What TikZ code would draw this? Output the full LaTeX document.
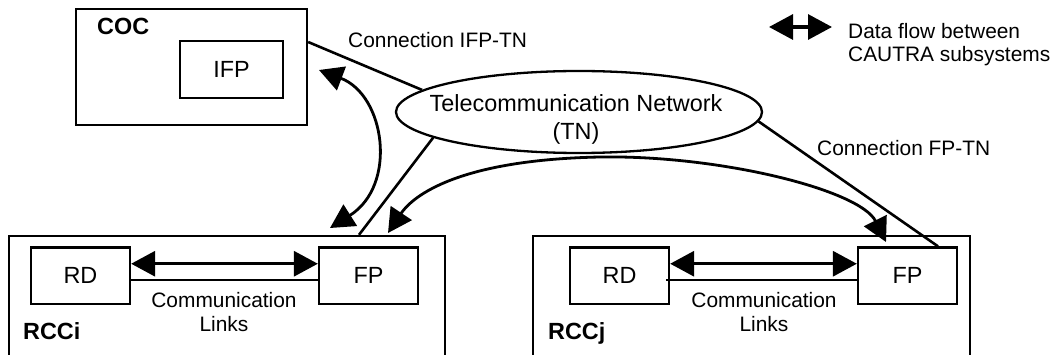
\documentclass[tikz,border=0pt]{standalone}
\usepackage{fontspec}
\setmainfont{Liberation Sans}
\usetikzlibrary{arrows.meta,shapes.geometric}
\begin{document}
\begin{tikzpicture}[x=1pt,y=-1pt,
  bigfont/.style={font=\fontsize{23.4}{28}\selectfont},
  boldfont/.style={font=\fontsize{23.4}{28}\selectfont\bfseries},
  smallfont/.style={font=\fontsize{20.9}{23.5}\selectfont},
  frame/.style={draw, line width=2.3pt, inner sep=0pt},
  unit/.style={frame, bigfont, minimum width=99pt, minimum height=56.5pt},
  txt/.style={inner sep=0pt},
  link/.style={line width=2.6pt},
  thinlink/.style={line width=1.8pt},
  flowtip/.tip={Triangle[length=24pt,width=25pt]},
  flow/.style={line width=3.2pt, flowtip-flowtip},
  flowcurve/.style={line width=2.8pt, flowtip-flowtip}]
\useasboundingbox (0,0) rectangle (1057,355);
\clip (0,0) rectangle (1057,355);

% COC
\node[frame, minimum width=231pt, minimum height=116pt] (coc) at (191.5,67) {};
\node[unit, minimum width=103pt, minimum height=57pt] (ifp) at (231.5,69.5) {IFP};
\node[txt, boldfont, anchor=base west] (coclabel) at (97,35) {COC};

% Telecommunication network
\node[frame, ellipse, minimum width=366pt, minimum height=82pt] (tn) at (579,112) {};
\node[txt, bigfont, align=center, anchor=north] (tntext) at (576,94) {Telecommunication Network\\(TN)};

% RCCi
\node[frame, minimum width=436pt, minimum height=160pt] (rcci) at (227,316) {};
\node[unit] (rd1) at (80.5,275.75) {RD};
\node[unit] (fp1) at (368.5,275.75) {FP};
\node[txt, boldfont, anchor=base west] (rccilabel) at (23,339) {RCCi};
\node[txt, smallfont, align=center, anchor=north] (cl1) at (224,292.5) {Communication\\Links};

% RCCj
\node[frame, minimum width=437pt, minimum height=160pt] (rccj) at (751.5,316) {};
\node[unit] (rd2) at (619.5,275.75) {RD};
\node[unit] (fp2) at (907.5,275.75) {FP};
\node[txt, boldfont, anchor=base west] (rccjlabel) at (548,339) {RCCj};
\node[txt, smallfont, align=center, anchor=north] (cl2) at (764,292.5) {Communication\\Links};

% communication links
\draw[flow] ([yshift=12pt]rd1.east) -- ([yshift=12pt]fp1.west);
\draw[thinlink] ([yshift=-4pt]rd1.east) -- ([yshift=-4pt]fp1.west);
\draw[flow] ([yshift=12pt]rd2.east) -- ([yshift=12pt]fp2.west);
\draw[thinlink] ([xshift=-4pt,yshift=-4pt]rd2.east) -- ([yshift=-4pt]fp2.west);

% connections to TN
\draw[link] ([yshift=25pt]coc.east) -- (tn.172);
\draw[link] (tn.190) -- ([xshift=132pt]rcci.north);
\draw[link] (tn.-3) -- ([xshift=30.5pt]fp2.north);
\node[txt, smallfont, anchor=west] (cifp) at (348,40) {Connection IFP-TN};
\node[txt, smallfont, anchor=west] (cfp) at (817,148) {Connection FP-TN};

% data flows
\coordinate (ifpend) at (319,70);
\coordinate (rccitop1) at (330,228);
\coordinate (rccitop2) at (388,233);
\coordinate (rccjtop) at (886,242);
\draw[flowcurve] (rccitop1) .. controls (398,185) and (385,95) .. (ifpend);
\draw[flowcurve] (rccitop2) .. controls (410,200) and (450,160) .. (600,157)
  .. controls (720,155) and (860,190) .. (rccjtop);

% legend
\coordinate (lgl) at (769,27);
\coordinate (lgr) at (832,27);
\draw[flow] (lgl) -- (lgr);
\node[txt, smallfont, align=left, anchor=north west] (legend) at (848,23) {Data flow between\\CAUTRA subsystems};
\end{tikzpicture}
\end{document}
